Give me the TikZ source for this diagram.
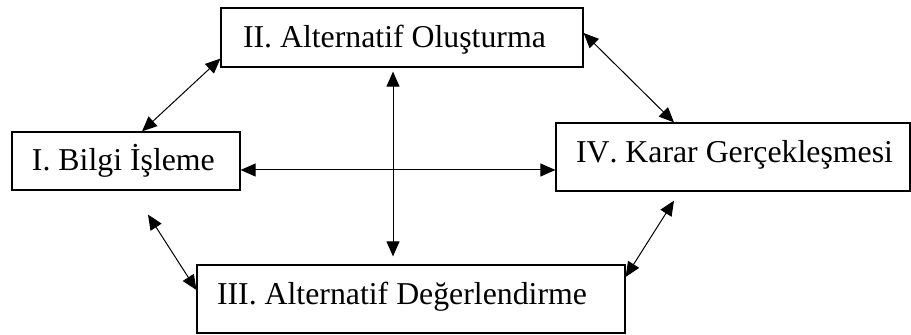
\documentclass[tikz,border=0pt]{standalone}
\usepackage{fontspec}
\setmainfont{Liberation Serif}[Kerning=Off]
\usetikzlibrary{arrows.meta,calc}
\newcommand{\stagetext}[2]{\makebox[#1][l]{#2}}
\begin{document}
\begin{tikzpicture}[x=0.5pt,y=-0.5pt,
		box/.style={draw, line width=0.6pt, font=\fontsize{15.9}{19}\selectfont},
		high/.style={text height=12pt, text depth=2pt},
		low/.style={text height=10pt, text depth=4pt},
		biarrow/.style={line width=0.5pt, {Triangle[length=7.5pt,width=6.5pt]}-{Triangle[length=7.5pt,width=6.5pt]}}]
		\useasboundingbox (0,0) rectangle (911,335);
		
		% Stages
		\node[box, high, inner xsep=10pt, minimum height=29pt] (bilgi) at (126,161) {\stagetext{94pt}{I. Bilgi İşleme}};
		\node[box, high, inner xsep=11pt, minimum height=29.5pt] (olus) at (402,37.5) {\stagetext{159pt}{II. Alternatif Oluşturma}};
		\node[box, low, inner xsep=10pt, minimum height=34pt] (deger) at (411,299) {\stagetext{194pt}{III. Alternatif Değerlendirme}};
		\node[box, low, inner xsep=10pt, minimum height=34pt] (karar) at (733,157) {\stagetext{157pt}{IV. Karar Gerçekleşmesi}};
		
		% Two-way links
		\draw[biarrow] ($(bilgi.north)+(16,0)$) -- ($(olus.south west)+(0,-9)$);
		\draw[biarrow] ($(olus.east)+(0,-4.5)$) -- ($(karar.north)+(-59,0)$);
		\draw[biarrow] ($(olus.south)+(-9,4)$) -- ($(deger.north)+(-18,-8)$);
		\draw[biarrow] ($(bilgi.east)+(0,9)$) -- ($(karar.west)+(0,13)$);
		\draw[biarrow] ($(bilgi.south)+(22,24)$) -- ($(deger.west)+(0,-9)$);
		\draw[biarrow] ($(deger.east)+(0,-22)$) -- ($(karar.south)+(-59,9)$);
	\end{tikzpicture}
\end{document}
